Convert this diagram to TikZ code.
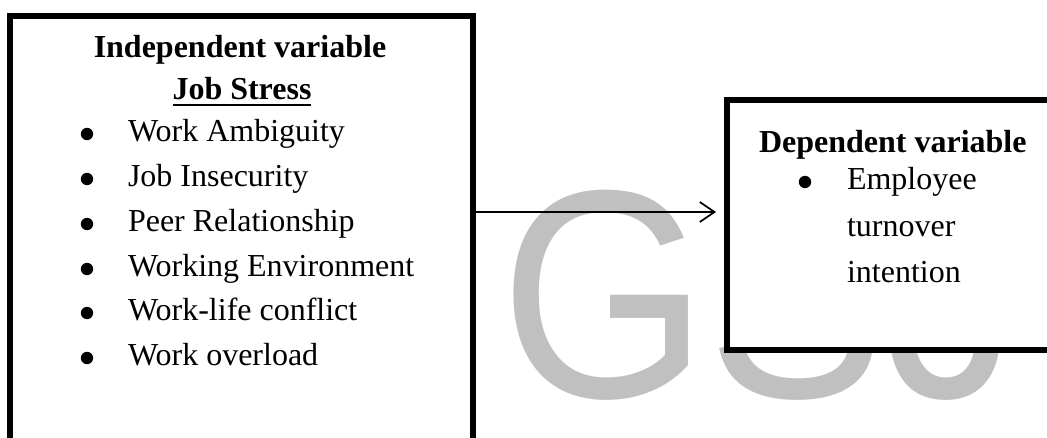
\documentclass[tikz,border=0pt]{standalone}
\usepackage{fontspec}
\usepackage{graphicx}
\setmainfont{Liberation Serif}
\newfontfamily\wmfont{Liberation Sans}
\usetikzlibrary{arrows.meta}
\definecolor{wmgray}{RGB}{192,192,192}
\tikzset{
  boxframe/.style={draw=black, line width=4.1pt, fill=white, outer sep=0pt, inner sep=0pt},
  txt/.style={inner sep=0pt, outer sep=0pt, font=\fontsize{24pt}{28pt}\selectfont},
  btxt/.style={txt, font=\fontsize{24pt}{28pt}\selectfont\bfseries},
  bul/.style={circle, fill=black, inner sep=0pt, minimum size=9.3pt},
  conn/.style={line width=1.3pt, -{Straight Barb[length=11pt, width=15pt, line width=1.3pt]}},
  wm/.style={inner sep=0pt, outer sep=0pt, text=wmgray, font=\wmfont\fontsize{222.75pt}{230pt}\selectfont}
}
\begin{document}
\begin{tikzpicture}[x=0.75pt, y=-0.75pt]
\useasboundingbox (0,0) rectangle (1047,438);
\clip (0,0) rectangle (1047,438);
% watermark
\node[wm, anchor=base west] (wmark) at (500,398) {\scalebox{0.9}[1]{GSJ}};
% left box (extends below the page)
\node[boxframe, fill=none, minimum width=347.25pt, minimum height=352.5pt] (lbox) at (241.5,251) {};
% right box (extends beyond the right edge)
\node[boxframe, minimum width=257.25pt, minimum height=187.5pt] (rbox) at (898.5,225) {};
% left box text
\node[btxt, anchor=base] (indep) at (240,58) {Independent variable};
\node[btxt, anchor=base] (js) at (242,100) {Job Stress};
\draw[line width=1.5pt] ([yshift=-4pt]js.base west) -- ([yshift=-4pt]js.base east);
\node[bul] (lb1) at (87,134) {};
\node[txt, anchor=base west] (l1) at (128,142) {Work Ambiguity};
\node[bul] (lb2) at (87,179) {};
\node[txt, anchor=base west] (l2) at (128,187) {Job Insecurity};
\node[bul] (lb3) at (87,224) {};
\node[txt, anchor=base west] (l3) at (128,232) {Peer Relationship};
\node[bul] (lb4) at (87,269) {};
\node[txt, anchor=base west] (l4) at (128,277) {Working Environment};
\node[bul] (lb5) at (87,313) {};
\node[txt, anchor=base west] (l5) at (128,321) {Work-life conflict};
\node[bul] (lb6) at (87,358) {};
\node[txt, anchor=base west] (l6) at (128,366) {Work overload};
% right box text
\node[btxt, anchor=base west] (dep) at (759,153) {Dependent variable};
\node[bul] (rb1) at (805,182) {};
\node[txt, anchor=base west] (r1) at (847,190) {Employee};
\node[txt, anchor=base west] (r2) at (847,237) {turnover};
\node[txt, anchor=base west] (r3) at (847,283) {intention};
% connector
\coordinate (arry) at (0,212);
\draw[conn, shorten >=8.25pt] (lbox.east |- arry) -- (rbox.west |- arry);
\end{tikzpicture}
\end{document}
